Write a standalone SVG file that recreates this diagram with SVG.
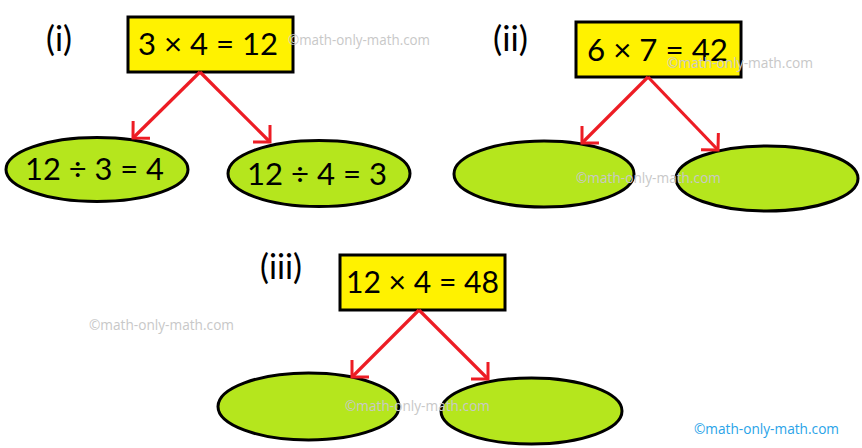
<svg xmlns="http://www.w3.org/2000/svg" width="862" height="448" viewBox="0 0 862 448">
<defs>
<style>
.box{fill:#fff200;stroke:#000;stroke-width:3}
.ell{fill:#b5e61d;stroke:#000;stroke-width:3}
.t{font-family:Lato,"Liberation Sans",sans-serif;font-size:31px;fill:#000}
.lbl{font-family:Lato,"Liberation Sans",sans-serif;font-size:34px;fill:#000}
.arr{stroke:#ed1c24;stroke-width:3.2;fill:none;marker-end:url(#ah)}
.wm{font-family:"Open Sans","Liberation Sans",sans-serif;font-size:14px;fill:#c8c8c8}
.wmb{font-family:"Open Sans","Liberation Sans",sans-serif;font-size:14px;fill:#29a3e8}
</style>
<marker id="ah" markerUnits="userSpaceOnUse" markerWidth="30" markerHeight="30" refX="0" refY="0" viewBox="-15 -15 30 30" orient="auto" overflow="visible">
<path d="M -12 -12 L 0 0 L -12 12" fill="none" stroke="#ed1c24" stroke-width="3"/>
</marker>
</defs>
<rect width="862" height="448" fill="#fff"/>
<text class="lbl" x="46" y="51" textLength="26" lengthAdjust="spacingAndGlyphs">(i)</text>
<text class="lbl" x="493" y="51" textLength="35" lengthAdjust="spacingAndGlyphs">(ii)</text>
<text class="lbl" x="260" y="279" textLength="42" lengthAdjust="spacingAndGlyphs">(iii)</text>
<g id="n1">
<rect class="box" x="128" y="17" width="165" height="55"/>
<text class="t" x="138" y="55" textLength="140" lengthAdjust="spacingAndGlyphs">3 × 4 = 12</text>
</g>
<g id="n1a">
<ellipse class="ell" cx="97" cy="169.5" rx="91" ry="32"/>
<text class="t" x="25" y="180" textLength="139" lengthAdjust="spacingAndGlyphs">12 ÷ 3 = 4</text>
</g>
<g id="n1b">
<ellipse class="ell" cx="319" cy="173.5" rx="91" ry="33"/>
<text class="t" x="247" y="185" textLength="140" lengthAdjust="spacingAndGlyphs">12 ÷ 4 = 3</text>
</g>
<g id="n2">
<rect class="box" x="576" y="22" width="165" height="55"/>
<text class="t" x="587" y="61" textLength="141" lengthAdjust="spacingAndGlyphs">6 × 7 = 42</text>
</g>
<g id="n2a">
<ellipse class="ell" cx="544" cy="174" rx="90" ry="33"/>
</g>
<g id="n2b">
<ellipse class="ell" cx="767" cy="178.5" rx="91" ry="32.5"/>
</g>
<g id="n3">
<rect class="box" x="340" y="255" width="165" height="55"/>
<text class="t" x="346" y="293" textLength="153" lengthAdjust="spacingAndGlyphs">12 × 4 = 48</text>
</g>
<g id="n3a">
<ellipse class="ell" cx="308.5" cy="406.5" rx="90.5" ry="33.5"/>
</g>
<g id="n3b">
<ellipse class="ell" cx="531.5" cy="411" rx="90.5" ry="33"/>
</g>
<g id="connectors">
<line class="arr" x1="200" y1="72" x2="133" y2="138"/>
<line class="arr" x1="200" y1="72" x2="270" y2="142"/>
<line class="arr" x1="648" y1="77" x2="582" y2="143"/>
<line class="arr" x1="648" y1="77" x2="718" y2="150"/>
<line class="arr" x1="419" y1="310" x2="352" y2="377"/>
<line class="arr" x1="419" y1="310" x2="488" y2="379"/>
</g>
<g id="watermarks">
<text class="wm" x="288" y="45" textLength="142" lengthAdjust="spacingAndGlyphs">©math-only-math.com</text>
<text class="wm" x="667" y="68" textLength="146" lengthAdjust="spacingAndGlyphs">©math-only-math.com</text>
<text class="wm" x="576" y="183" textLength="145" lengthAdjust="spacingAndGlyphs">©math-only-math.com</text>
<text class="wm" x="89" y="330" textLength="145" lengthAdjust="spacingAndGlyphs">©math-only-math.com</text>
<text class="wm" x="345" y="411" textLength="145" lengthAdjust="spacingAndGlyphs">©math-only-math.com</text>
<text class="wmb" x="694" y="434" textLength="145" lengthAdjust="spacingAndGlyphs">©math-only-math.com</text>
</g>
</svg>
